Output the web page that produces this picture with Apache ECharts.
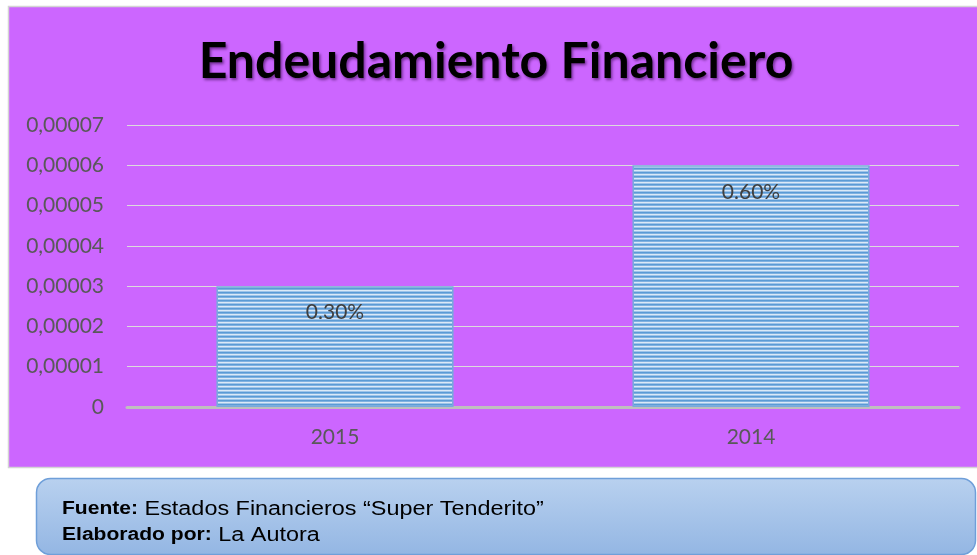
<!DOCTYPE html>
<html>
<head>
<meta charset="utf-8">
<script src="https://cdn.jsdelivr.net/npm/echarts@6/dist/echarts.min.js"></script>
<style>
  html, body { margin: 0; padding: 0; background: #ffffff; }
  #chart { width: 977px; height: 555px; }
</style>
</head>
<body>
<div id="chart"></div>
<script>
// Years shown on the category axis
const years = ['2015', '2014'];
// Financial leverage ratio per year
const ratios = [0.00003, 0.00006];
// Text printed inside each bar
const barLabels = ['0.30%', '0.60%'];
// Value axis tick labels (step 0.00001)
const yTickLabels = ['0', '0,00001', '0,00002', '0,00003', '0,00004', '0,00005', '0,00006', '0,00007'];

const chartTitle = 'Endeudamiento Financiero';
const sourceLabel = 'Fuente:';
const sourceText = ' Estados Financieros \u201CSuper Tenderito\u201D';
const authorLabel = 'Elaborado por:';
const authorText = ' La Autora';

// Horizontal striped fill for the bars
function stripeCanvas() {
  const c = document.createElement('canvas');
  c.width = 8; c.height = 4;
  const g = c.getContext('2d');
  const rows = ['#5b9bd5', '#80b1e1', '#dbe9f7', '#9fc4ea'];
  rows.forEach((col, i) => { g.fillStyle = col; g.fillRect(0, i, 8, 1); });
  return c;
}

// Note lines in the caption box are set slightly widened
const noteRich = {
  b: { font: 'bold 18px "Liberation Sans"', fill: '#000000' },
  r: { font: '20px "Liberation Sans"', fill: '#000000' }
};

const step = 0.00001;
const chart = echarts.init(document.getElementById('chart'), null, { renderer: 'canvas' });

chart.setOption({
  animation: false,
  backgroundColor: '#ffffff',
  textStyle: { fontFamily: 'Lato' },
  graphic: [
    {
      type: 'rect', z: -10, silent: true,
      shape: { x: 8.5, y: 6.5, width: 980, height: 461 },
      style: { fill: '#cc66ff', stroke: '#d4d4d4', lineWidth: 1.5 }
    },
    {
      type: 'text', z: 10,
      x: 496, y: 62,
      style: {
        text: chartTitle,
        font: 'bold 50px Lato',
        fill: '#000000',
        align: 'center', verticalAlign: 'middle',
        textShadowColor: 'rgba(40,0,60,0.55)', textShadowBlur: 3,
        textShadowOffsetX: 1.5, textShadowOffsetY: 1.5
      }
    },
    {
      type: 'rect', z: 5,
      shape: { x: 36.5, y: 478.5, width: 939, height: 76, r: 14 },
      style: {
        fill: new echarts.graphic.LinearGradient(0, 0, 0, 1, [
          { offset: 0, color: '#b9d1ef' },
          { offset: 1, color: '#93b6e3' }
        ]),
        stroke: '#6f9fd9', lineWidth: 1.5
      }
    },
    {
      type: 'text', z: 6, x: 62, y: 509, scaleX: 1.17,
      style: {
        text: '{b|' + sourceLabel + '}{r|' + sourceText + '}',
        verticalAlign: 'middle',
        rich: noteRich
      }
    },
    {
      type: 'text', z: 6, x: 62, y: 535, scaleX: 1.17,
      style: {
        text: '{b|' + authorLabel + '}{r|' + authorText + '}',
        verticalAlign: 'middle',
        rich: noteRich
      }
    }
  ],
  grid: { left: 127, right: 18, top: 125, bottom: 148, containLabel: false },
  xAxis: {
    type: 'category',
    data: years,
    axisLine: { show: true, lineStyle: { color: '#bfbfbf', width: 3 } },
    axisTick: { show: false },
    axisLabel: { color: '#595959', fontSize: 21, fontFamily: 'Lato', margin: 20 }
  },
  yAxis: {
    type: 'value',
    min: 0, max: 0.00007, interval: step,
    axisLine: { show: false },
    axisTick: { show: false },
    splitLine: { lineStyle: { color: '#dcdcdc', width: 1 } },
    axisLabel: {
      color: '#595959', fontSize: 21, fontFamily: 'Lato', margin: 23,
      formatter: v => yTickLabels[Math.round(v / step)]
    }
  },
  series: [{
    type: 'bar',
    data: ratios,
    barWidth: '57%',
    itemStyle: {
      color: { image: stripeCanvas(), repeat: 'repeat' },
      borderColor: '#78aadd', borderWidth: 1.5
    },
    label: {
      show: true,
      position: 'insideTop',
      distance: 16,
      color: '#404040',
      fontSize: 21,
      fontFamily: 'Lato',
      formatter: p => barLabels[p.dataIndex]
    }
  }]
});
</script>
</body>
</html>
